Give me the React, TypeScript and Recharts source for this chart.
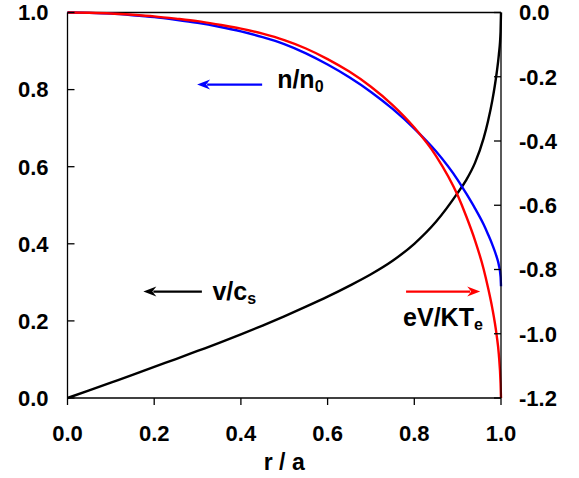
import { LineChart, Line, XAxis, YAxis, ReferenceLine } from 'recharts';

// r / a
const radius = [
  0, 0.05, 0.1, 0.15, 0.2, 0.25, 0.3, 0.35, 0.4, 0.45, 0.5, 0.55, 0.6, 0.65,
  0.7, 0.75, 0.8, 0.85, 0.9, 0.92, 0.94, 0.96, 0.97, 0.98, 0.99, 0.995, 0.999, 1.0,
];
// n/n0 (left axis)
const density = [
  1.0, 0.999, 0.997, 0.993, 0.988, 0.981, 0.973, 0.963, 0.951, 0.936, 0.918, 0.894, 0.865, 0.832,
  0.794, 0.75, 0.699, 0.64, 0.566, 0.53, 0.492, 0.45, 0.425, 0.398, 0.366, 0.345, 0.315, 0.29,
];
// v/cs (left axis)
const velocity = [
  0, 0.02, 0.04, 0.06, 0.081, 0.101, 0.122, 0.143, 0.165, 0.188, 0.212, 0.237, 0.263, 0.291,
  0.321, 0.356, 0.4, 0.457, 0.532, 0.566, 0.61, 0.674, 0.718, 0.772, 0.843, 0.89, 0.95, 1.0,
];
// eV/KTe (right axis)
const potential = [
  0, -0.001, -0.003, -0.007, -0.012, -0.019, -0.027, -0.038, -0.05, -0.066, -0.086, -0.112, -0.145, -0.184,
  -0.231, -0.288, -0.358, -0.446, -0.569, -0.635, -0.709, -0.799, -0.856, -0.921, -1.005, -1.064, -1.155, -1.2,
];

const xTicks = [0, 0.2, 0.4, 0.6, 0.8, 1.0];
const leftTicks = [0, 0.2, 0.4, 0.6, 0.8, 1.0];
const rightTicks = [0, -0.2, -0.4, -0.6, -0.8, -1.0, -1.2];

const data = radius.map((r, i) => ({
  r,
  n: density[i],
  v: velocity[i],
  phi: potential[i],
}));

const FONT = '"Liberation Sans", Arial, Helvetica, sans-serif';
const AXIS_W = 1.3;

function LeftTick({ x, y, payload }: any) {
  return (
    <g>
      <line x1={x} y1={y} x2={x + 7} y2={y} stroke="#000" strokeWidth={AXIS_W} />
      <text x={x - 19} y={y} dy="0.355em" textAnchor="end" fontFamily={FONT} fontWeight="bold" fontSize={22} fill="#000">
        {payload.value.toFixed(1)}
      </text>
    </g>
  );
}

function RightTick({ x, y, payload }: any) {
  return (
    <g>
      <line x1={x - 7} y1={y} x2={x} y2={y} stroke="#000" strokeWidth={AXIS_W} />
      <text x={x + 18} y={y} dy="0.355em" textAnchor="start" fontFamily={FONT} fontWeight="bold" fontSize={22} fill="#000">
        {payload.value.toFixed(1)}
      </text>
    </g>
  );
}

function BottomTick({ x, y, payload }: any) {
  return (
    <g>
      <line x1={x} y1={y} x2={x} y2={y + 7} stroke="#000" strokeWidth={AXIS_W} />
      <text x={x} y={y + 43} textAnchor="middle" fontFamily={FONT} fontWeight="bold" fontSize={22} fill="#000">
        {payload.value.toFixed(1)}
      </text>
    </g>
  );
}

// arrow drawn tail -> head, with its label offset from the tail
function arrowShape(color: string, label: string, sub: string, dx: number, dy: number) {
  return (props: any) => {
    const { x1, y1, x2, y2 } = props;
    const dir = Math.sign(x2 - x1);
    const len = 13;
    const half = 5;
    return (
      <g>
        <line x1={x1} y1={y1} x2={x2 - dir * (len - 3)} y2={y2} stroke={color} strokeWidth={2.2} />
        <polygon
          points={`${x2},${y2} ${x2 - dir * len},${y2 - half} ${x2 - dir * (len - 4)},${y2} ${x2 - dir * len},${y2 + half}`}
          fill={color}
        />
        <text x={x1 + dx} y={y1 + dy} fontFamily={FONT} fontWeight="bold" fontSize={25} fill="#000">
          {label}
          <tspan dy={4} fontSize={16}>{sub}</tspan>
        </text>
      </g>
    );
  };
}

export default function App() {
  return (
    <div style={{ position: 'absolute', left: 0, top: 0, width: 579, height: 478, background: '#fff' }}>
      <LineChart width={579} height={478} data={data} margin={{ top: 12.5, right: 0, bottom: 0, left: 0 }}>
        <XAxis
          dataKey="r"
          type="number"
          domain={[0, 1]}
          ticks={xTicks}
          height={80}
          tickSize={0}
          tickMargin={0}
          tickLine={false}
          tick={<BottomTick />}
          stroke="#000"
          strokeWidth={AXIS_W}
          label={{
            value: 'r / a',
            position: 'insideBottom',
            offset: 8,
            fill: '#000',
            fontSize: 23,
            fontWeight: 'bold',
            fontFamily: FONT,
          }}
        />
        <YAxis
          yAxisId="left"
          type="number"
          domain={[0, 1]}
          ticks={leftTicks}
          width={67.5}
          tickSize={0}
          tickMargin={0}
          tickLine={false}
          tick={<LeftTick />}
          stroke="#000"
          strokeWidth={AXIS_W}
        />
        <YAxis
          yAxisId="right"
          orientation="right"
          type="number"
          domain={[-1.2, 0]}
          ticks={rightTicks}
          width={78}
          tickSize={0}
          tickMargin={0}
          tickLine={false}
          tick={<RightTick />}
          stroke="#000"
          strokeWidth={AXIS_W}
        />
        <ReferenceLine yAxisId="left" y={1} stroke="#000" strokeWidth={AXIS_W} />

        <Line yAxisId="left" type="monotone" dataKey="v" stroke="#000000" strokeWidth={2.4} dot={false} isAnimationActive={false} />
        <Line yAxisId="left" type="monotone" dataKey="n" stroke="#0000ff" strokeWidth={2.4} dot={false} isAnimationActive={false} />
        <Line yAxisId="right" type="monotone" dataKey="phi" stroke="#ff0000" strokeWidth={2.4} dot={false} isAnimationActive={false} />

        <ReferenceLine
          yAxisId="left"
          segment={[{ x: 0.449, y: 0.813 }, { x: 0.299, y: 0.813 }]}
          shape={arrowShape('#0000ff', 'n/n', '0', 15, 3)}
        />
        <ReferenceLine
          yAxisId="left"
          segment={[{ x: 0.31, y: 0.276 }, { x: 0.175, y: 0.276 }]}
          shape={arrowShape('#000000', 'v/c', 's', 10.5, 8)}
        />
        <ReferenceLine
          yAxisId="left"
          segment={[{ x: 0.781, y: 0.276 }, { x: 0.952, y: 0.276 }]}
          shape={arrowShape('#ff0000', 'eV/KT', 'e', -3, 34)}
        />
      </LineChart>
    </div>
  );
}
